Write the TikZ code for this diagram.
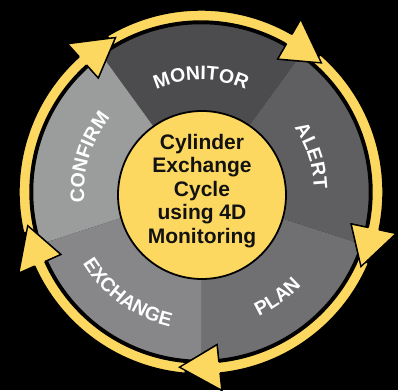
\documentclass[tikz,border=0pt]{standalone}
\usepackage{fontspec}
\setmainfont{Liberation Sans}
\usetikzlibrary{decorations.text}
\definecolor{ylw}{HTML}{FDD860}
\definecolor{segmon}{HTML}{4C4C4E}
\definecolor{segalr}{HTML}{5F5F61}
\definecolor{segpln}{HTML}{707072}
\definecolor{segexc}{HTML}{87878A}
\definecolor{segcnf}{HTML}{9B9C9C}
\newcommand\seglabfont{\fontsize{19.5}{20}\selectfont\bfseries}
\tikzset{
  arrowband/.style={fill=ylw, draw=black, line width=1.4pt, line join=miter},
  seglabel/.style={decorate, decoration={text along path, text align=center, text color=white}},
}
\begin{document}
\begin{tikzpicture}[x=1pt,y=1pt]
\useasboundingbox (-201pt,-198pt) rectangle (197pt,192pt);
\fill[black] (-201pt,-198pt) rectangle (197pt,192pt);
% segments
\fill[segmon] (0,0) -- (126:169pt) arc[start angle=126, end angle=54, radius=169pt] -- cycle;
\fill[segalr] (0,0) -- (54:169pt) arc[start angle=54, end angle=-18, radius=169pt] -- cycle;
\fill[segpln] (0,0) -- (-18:169pt) arc[start angle=-18, end angle=-90, radius=169pt] -- cycle;
\fill[segexc] (0,0) -- (-90:169pt) arc[start angle=-90, end angle=-162, radius=169pt] -- cycle;
\fill[segcnf] (0,0) -- (198:169pt) arc[start angle=198, end angle=126, radius=169pt] -- cycle;
\draw[black, line width=2.5pt] (0,0) circle[radius=169pt];
% arrows
\foreach \bb in {126,54,-18,-90,-162}{
  \pgfmathsetmacro\aS{\bb-5}
  \pgfmathsetmacro\aE{\bb-66}
  \pgfmathsetmacro\aT{\bb-79}
  \filldraw[arrowband] (\aS:182pt) arc[start angle=\aS, end angle=\aE, radius=182pt]
    -- (\aE:199.5pt) -- (\aT:176.5pt) -- (\aE:153.5pt) -- (\aE:171pt)
    arc[start angle=\aE, end angle=\aS, radius=171pt] -- cycle;
}
\foreach \bb in {126,54,-18,-90,-162}{
  \pgfmathsetmacro\aE{\bb-66}
  \pgfmathsetmacro\aT{\bb-79}
  \fill[ylw] (\aE:199.5pt) -- (\aT:176.5pt) -- (\aE:153.5pt) -- cycle;
  \draw[black, line width=1.4pt, line join=miter] (\aE:182pt) -- (\aE:199.5pt) -- (\aT:176.5pt) -- (\aE:153.5pt) -- (\aE:171pt);
}
% labels
\path[seglabel, decoration={text={|\seglabfont|MONITOR}}] (130:112pt) arc[start angle=130, end angle=50, radius=112pt];
\path[seglabel, decoration={text={|\seglabfont|ALERT}}] (58:113pt) arc[start angle=58, end angle=-22, radius=113pt];
\path[seglabel, decoration={text={|\seglabfont|CONFIRM}}] (205:117pt) arc[start angle=205, end angle=121, radius=117pt];
\path[seglabel, decoration={text={|\seglabfont|PLAN}}] (-94:137pt) arc[start angle=-94, end angle=-14, radius=137pt];
\path[seglabel, decoration={text={|\seglabfont|EXCHANGE}}] (192:138pt) arc[start angle=192, end angle=276, radius=138pt];
% centre
\node[circle, fill=ylw, draw=black, line width=1.8pt, minimum size=168pt, inner sep=0pt] (ctr) at (1pt,-3pt) {};
\node[align=center, text=black!93, font=\fontsize{21}{23.4}\selectfont\bfseries, inner sep=0pt] (ctrtext) at (1pt,1pt) {Cylinder\\Exchange\\Cycle\\using 4D\\Monitoring};
\end{tikzpicture}
\end{document}
